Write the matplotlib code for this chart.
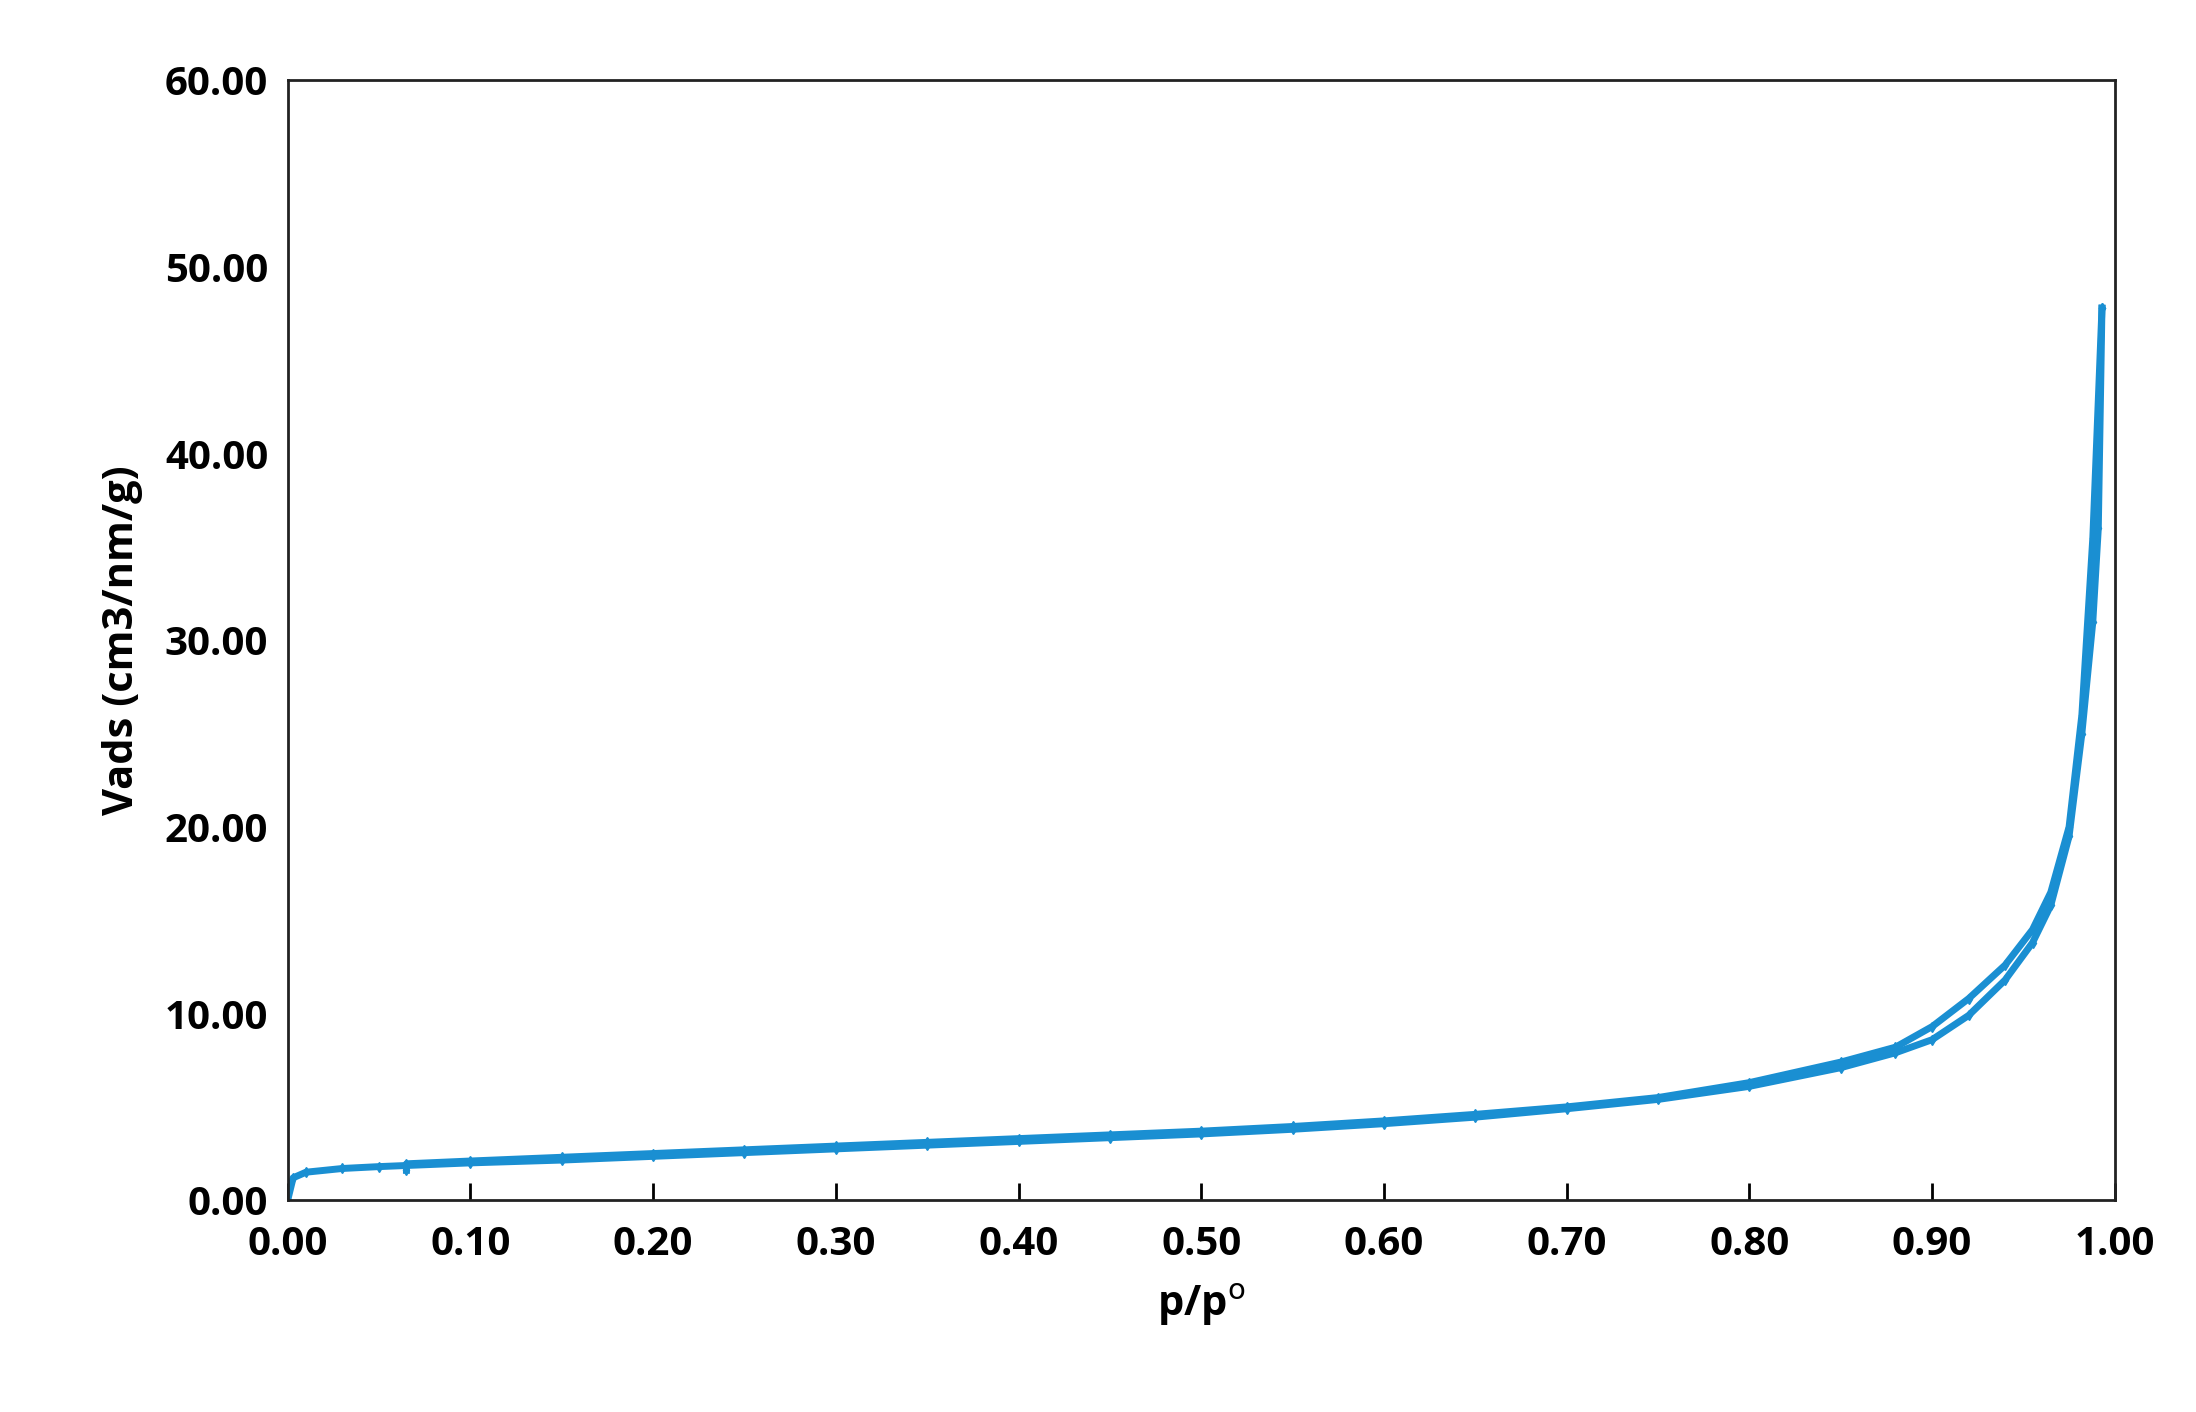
import matplotlib
matplotlib.use("Agg")
import matplotlib.pyplot as plt
from matplotlib.ticker import FormatStrFormatter

ads_p = [0.0, 0.003, 0.01, 0.03, 0.05, 0.1, 0.15, 0.2, 0.25, 0.3, 0.35, 0.4, 0.45, 0.5, 0.55, 0.6, 0.65,
         0.7, 0.75, 0.8, 0.85, 0.88, 0.9, 0.92, 0.94, 0.955, 0.965, 0.975, 0.982, 0.988, 0.991, 0.993]
ads_v = [0.0, 1.2, 1.5, 1.7, 1.8, 2.0, 2.15, 2.35, 2.55, 2.75, 2.95, 3.15, 3.35, 3.55, 3.8, 4.1, 4.45,
         4.9, 5.4, 6.1, 7.1, 7.9, 8.6, 9.9, 11.8, 13.8, 15.8, 19.5, 25.0, 31.0, 36.0, 47.8]
des_p = [0.993, 0.988, 0.982, 0.975, 0.965, 0.955, 0.94, 0.92, 0.9, 0.88, 0.85, 0.8, 0.75, 0.7, 0.65,
         0.6, 0.55, 0.5, 0.45, 0.4, 0.35, 0.3, 0.25, 0.2, 0.15, 0.1, 0.065, 0.065]
des_v = [47.8, 35.5, 26.0, 20.0, 16.5, 14.5, 12.6, 10.8, 9.3, 8.2, 7.4, 6.3, 5.5, 5.0, 4.6,
         4.25, 3.95, 3.7, 3.5, 3.3, 3.1, 2.9, 2.7, 2.5, 2.3, 2.1, 1.95, 1.6]

color = "#1a8fd2"
fig = plt.figure(figsize=(21.96, 14.12), dpi=100)
ax = fig.add_axes([0.131, 0.15, 0.832, 0.793])
ax.plot(ads_p, ads_v, color=color, lw=5, marker="d", ms=5)
ax.plot(des_p, des_v, color=color, lw=5, marker="d", ms=5)
ax.set_xlim(0, 1)
ax.set_ylim(0, 60)
ax.set_xticks([i / 10 for i in range(11)])
ax.set_yticks(range(0, 61, 10))
ax.xaxis.set_major_formatter(FormatStrFormatter("%.2f"))
ax.yaxis.set_major_formatter(FormatStrFormatter("%.2f"))
ax.tick_params(direction="in", length=12, width=2, labelsize=29, pad=18)
ax.tick_params(axis="y", length=0, pad=14)
for lab in ax.get_xticklabels() + ax.get_yticklabels():
    lab.set_fontweight("bold"); lab.set_family("Open Sans")
for s in ax.spines.values():
    s.set_linewidth(2); s.set_color("#222222")
ax.set_xlabel("p/p$^{\\mathrm{o}}$", fontsize=30, fontweight="bold", family="Open Sans", labelpad=12)
ax.set_ylabel("Vads (cm3/nm/g)", fontsize=30, fontweight="bold", family="Open Sans", labelpad=16)
fig.savefig("out.png", dpi=100)
